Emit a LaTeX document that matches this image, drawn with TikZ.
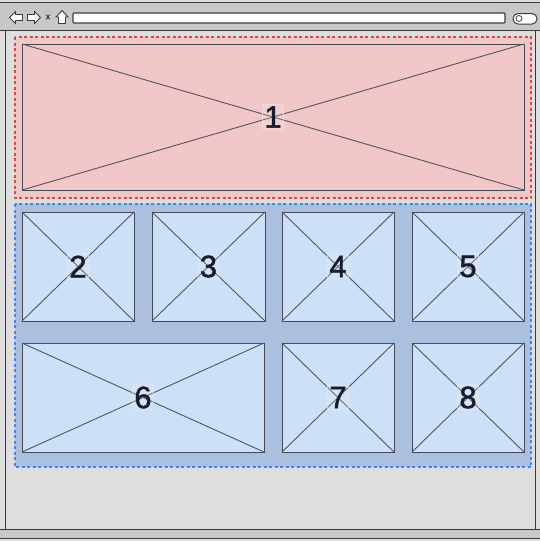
\documentclass[tikz,border=0pt]{standalone}
\usepackage{fontspec}
\setsansfont{Liberation Sans}
\newfontfamily\labelfont[FakeBold=1.3]{Liberation Sans}
\usepackage{xcolor}
\definecolor{pagegrey}{RGB}{222, 222, 222}
\definecolor{bargrey}{RGB}{200, 200, 200}
\definecolor{framedark}{RGB}{60, 60, 60}
\definecolor{heroline}{RGB}{224, 68, 68}
\definecolor{herofill}{RGB}{242, 199, 199}
\definecolor{gridline}{RGB}{66, 133, 232}
\definecolor{gridfill}{RGB}{170, 192, 222}
\definecolor{tilefill}{RGB}{204, 224, 248}
\definecolor{inkdark}{RGB}{25, 28, 45}
\usetikzlibrary{arrows.meta, positioning, calc}

\tikzset{
    region/.style={draw, dashed, line width=1.1pt, dash pattern=on 3pt off 2.5pt},
    imgbox/.style={draw=inkdark!80, line width=1pt, inner sep=0pt, outer sep=0pt},
    xline/.style={draw=inkdark!75, line width=0.9pt},
    numlabel/.style={font=\labelfont\fontsize{31}{31}\selectfont, text=inkdark, draw=black!10, fill=white, fill opacity=0.15, text opacity=1, inner sep=2pt, rounded corners=1pt}
}

\begin{document}
\begin{tikzpicture}[x=1pt, y=-1pt, >=Stealth]
    \useasboundingbox (0,0) rectangle (540,541);
    % browser window
    \fill[pagegrey] (0,0) rectangle (540,541);
    \fill[bargrey] (0,2) rectangle (540,30);
    \draw[framedark, line width=0.9pt] (0,2.5) -- (540,2.5);
    \draw[framedark, line width=0.9pt] (0,30) -- (540,30);
    \draw[framedark, line width=0.9pt] (5,30) -- (5,529) (535,30) -- (535,529);
    \fill[bargrey] (0,529) rectangle (540,539);
    \draw[framedark, line width=0.9pt] (0,529) -- (540,529) (0,538.5) -- (540,538.5);
    % toolbar icons
    \draw[framedark, fill=white, line width=0.9pt] (9.5,17.5) -- (15.5,11.5) -- (15.5,14.5) -- (22.5,14.5) -- (22.5,20.5) -- (15.5,20.5) -- (15.5,23.5) -- cycle;
    \draw[framedark, fill=white, line width=0.9pt] (40.5,17.5) -- (34.5,11.5) -- (34.5,14.5) -- (27.5,14.5) -- (27.5,20.5) -- (34.5,20.5) -- (34.5,23.5) -- cycle;
    \node[font=\labelfont\small, text=framedark, inner sep=0pt] (closeicon) at (48,17) {x};
    \draw[framedark, fill=white, line width=0.9pt] (62,10.5) -- (68,17) -- (65.5,17) -- (65.5,23.5) -- (58.5,23.5) -- (58.5,17) -- (56,17) -- cycle;
    \draw[framedark, fill=white, line width=1.2pt, rounded corners=1pt] (73,13) rectangle (505,23);
    \draw[framedark, fill=white, line width=1pt, rounded corners=5pt] (513,13.5) rectangle (537,24);
    \draw[framedark, line width=0.8pt] (519,18.5) circle (3pt);

    % hero area
    \draw[region, draw=heroline, fill=herofill] (15,37) rectangle (531,198);
    \node[imgbox, minimum width=502, minimum height=146] (p1) at (273,117) {};
    % tile grid
    \draw[region, draw=gridline, fill=gridfill] (15,204) rectangle (531,467);
    \node[imgbox, fill=tilefill, minimum width=112, minimum height=109] (p2) at (78,266.5) {};
    \node[imgbox, fill=tilefill, minimum width=113, minimum height=109] (p3) at (208.5,266.5) {};
    \node[imgbox, fill=tilefill, minimum width=112, minimum height=109] (p4) at (338,266.5) {};
    \node[imgbox, fill=tilefill, minimum width=112, minimum height=109] (p5) at (468,266.5) {};
    \node[imgbox, fill=tilefill, minimum width=242, minimum height=109] (p6) at (143,397.5) {};
    \node[imgbox, fill=tilefill, minimum width=112, minimum height=109] (p7) at (338,397.5) {};
    \node[imgbox, fill=tilefill, minimum width=112, minimum height=109] (p8) at (468,397.5) {};

    \foreach \p in {p1,p2,p3,p4,p5,p6,p7,p8}
        \draw[xline] (\p.north west) -- (\p.south east) (\p.north east) -- (\p.south west);

    \node[numlabel] (l1) at (p1) {1};
    \node[numlabel] (l2) at (p2) {2};
    \node[numlabel] (l3) at (p3) {3};
    \node[numlabel] (l4) at (p4) {4};
    \node[numlabel] (l5) at (p5) {5};
    \node[numlabel] (l6) at (p6) {6};
    \node[numlabel] (l7) at (p7) {7};
    \node[numlabel] (l8) at (p8) {8};
\end{tikzpicture}
\end{document}
